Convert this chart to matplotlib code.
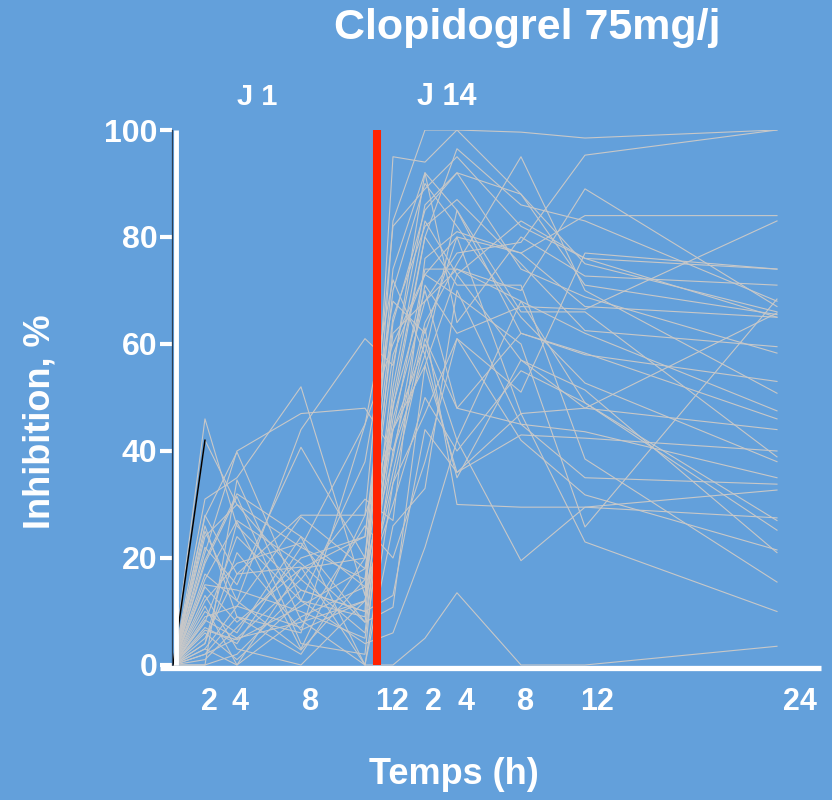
import numpy as np
import matplotlib.pyplot as plt

plt.rcParams['font.family'] = ['Liberation Sans', 'DejaVu Sans']

# temps de prelevement (h) a J1 et J14
hours_j1 = [0, 2, 4, 8, 12]
hours_j14 = [0, 2, 4, 8, 12, 24]
j14_offset = 13.75

# inhibition (%) par patient : J1 (0,2,4,8,12h) puis J14 (0,2,4,8,12,24h)
j1 = [
    [0, 42, 30, 22, 45],
    [0, 46, 26, 14, 10],
    [0, 31, 35, 52, 13],
    [0, 28, 17, 28, 28],
    [0, 25, 12, 44, 61],
    [0, 21, 40, 47, 48],
    [0, 19.6, 32, 24, 14.6],
    [0, 16, 27, 19, 8],
    [0, 14.6, 8, 18, 24],
    [0, 8.4, 5, 16, 31],
    [0, 6.5, 4.7, 11, 18],
    [0, 4, 21, 6.5, 12],
    [0, 0, 34.6, 8.4, 0],
    [0, 27.7, 39.8, 12, 4],
    [0, 22, 15, 40.7, 20],
    [0, 17, 12, 2.8, 16],
    [0, 12, 19, 22.8, 8],
    [0, 10, 6, 24, 0],
    [0, 3, 0, 9, 14.6],
    [0, 2, 9, 6, 44.9],
    [0, 5, 17, 18.3, 0],
    [0, 9, 11, 27.7, 18],
    [0, 13, 3, 0, 12],
    [0, 1, 7, 20, 24],
    [0, 24, 30, 16, 6],
    [0, 6, 1, 12, 9],
    [0, 4, 26.7, 3, 28],
    [0, 0, 2, 14, 10],
    [0, 7, 4, 22, 16],
    [0, 19, 31.5, 4, 2],
    [0, 11, 0, 18, 20],
    [0, 15, 14, 10, 5],
    [0, 2, 5, 8, 12],
    [0, 26, 9, 2, 20],
    [0, 8, 24, 12, 38],
    [0, 3, 11, 7, 26],
]
j14 = [
    [60, 73, 80, 77, 67, 65],
    [95, 94, 100, 88, 75, 66],
    [83, 100, 100, 99.6, 98.5, 100],
    [82, 89, 95, 82, 76, 74],
    [56, 86, 92, 88, 71, 65.5],
    [40, 64, 75, 95, 70, 50.8],
    [48, 80, 96.5, 86, 83, 68],
    [44, 74, 74, 70, 89, 67],
    [65, 82, 87, 75, 62.5, 59.5],
    [27, 76, 81, 77, 84, 84],
    [38.7, 71, 62, 67, 66.5, 83],
    [34, 61, 48, 62, 58, 53],
    [0, 5, 13.5, 0, 0, 3.5],
    [6, 22, 42, 68, 62, 47.5],
    [62, 68, 74, 68, 49, 27],
    [44, 56, 73, 57, 51.4, 21],
    [10.8, 56, 36, 43, 42.4, 40],
    [26, 33, 70, 45, 35, 33.8],
    [30, 50, 40, 55, 49, 25.2],
    [72, 58, 85, 62, 58.3, 46],
    [34, 47, 61, 42, 31.8, 21.5],
    [50, 80, 71, 71, 38.5, 15.5],
    [36, 63, 30, 29.5, 29.5, 32.7],
    [70, 90, 82, 65, 52.7, 38],
    [48.6, 70, 48, 45, 43.6, 35],
    [55, 92, 64, 80, 72.7, 71],
    [44, 60, 42, 19.5, 29.5, 27.5],
    [13, 44, 36, 47, 23, 10],
    [64, 85, 92, 74, 68.8, 58.3],
    [52, 83, 73, 83, 76, 65],
    [74, 92, 85, 66, 66, 38.9],
    [40, 58, 35, 57, 48, 44],
    [46, 68, 77, 79, 95.3, 100],
    [58, 73, 69, 60, 25.8, 68.4],
    [68, 62, 80, 47, 48, 65.8],
    [20, 38, 61, 51, 77, 74],
]

xtick_labels = ['2', '4', '8', '12', '2', '4', '8', '12', '24']
xtick_pos = [2.31, 4.19, 8.63, 13.69, 16.25, 18.31, 22.06, 26.5, 39.19]
ytick_vals = [0, 20, 40, 60, 80, 100]

bg = '#63A0DB'
fig = plt.figure(figsize=(8.32, 8.0), dpi=100, facecolor=bg)
ax = fig.add_axes([172 / 832, 1 - 668.2 / 800, 649 / 832, 538.2 / 800])
ax.set_facecolor(bg)
ax.set_xlim(-0.06, 40.5)
ax.set_ylim(-0.6, 100)

x_all = hours_j1 + [h + j14_offset for h in hours_j14]
for a, b in zip(j1, j14):
    ax.plot(x_all, a + b, color='#C8C8C8', lw=0.8, zorder=2)
# premier segment en noir
ax.plot(hours_j1[:2], j1[0][:2], color='black', lw=1.1, zorder=3)

# trait rouge entre J1 et J14
ax.plot([12.75, 12.75], [0, 100], color='#FF2200', lw=5.8, solid_capstyle='butt', zorder=5)

# axes dessines a la main
for s in ax.spines.values():
    s.set_visible(False)
ax.plot([-0.06, -0.06], [0, 100], color='#2B3E55', lw=0.9, clip_on=False, zorder=6)
ax.plot([0.16, 0.16], [0, 100], color='white', lw=3.5, solid_capstyle='butt', clip_on=False, zorder=6)
ax.plot([-0.81, 40.5], [-0.6, -0.6], color='white', lw=3.8, solid_capstyle='butt', clip_on=False, zorder=6)

ax.set_yticks(ytick_vals)
ax.tick_params(axis='y', colors='white', length=8.6, width=3, pad=2, labelsize=23)
for lab in ax.get_yticklabels():
    lab.set_fontweight('bold')
ax.set_xticks([])
for pos, lab in zip(xtick_pos, xtick_labels):
    ax.text(pos, -7, lab, color='white', fontsize=22, fontweight='bold',
            ha='center', va='center', clip_on=False)

fig.text(527 / 832, 1 - 28 / 800, 'Clopidogrel 75mg/j', color='white', fontsize=31,
         fontweight='bold', ha='center', va='center')
fig.text(257 / 832, 1 - 97 / 800, 'J 1', color='white', fontsize=21,
         fontweight='bold', ha='center', va='center')
fig.text(447 / 832, 1 - 97 / 800, 'J 14', color='white', fontsize=22,
         fontweight='bold', ha='center', va='center')
fig.text(40 / 832, 1 - 422 / 800, 'Inhibition, %', color='white', fontsize=26,
         fontweight='bold', ha='center', va='center', rotation=90)
fig.text(454 / 832, 1 - 775 / 800, 'Temps (h)', color='white', fontsize=26,
         fontweight='bold', ha='center', va='center')

fig.savefig('out.png', dpi=100, facecolor=bg)
